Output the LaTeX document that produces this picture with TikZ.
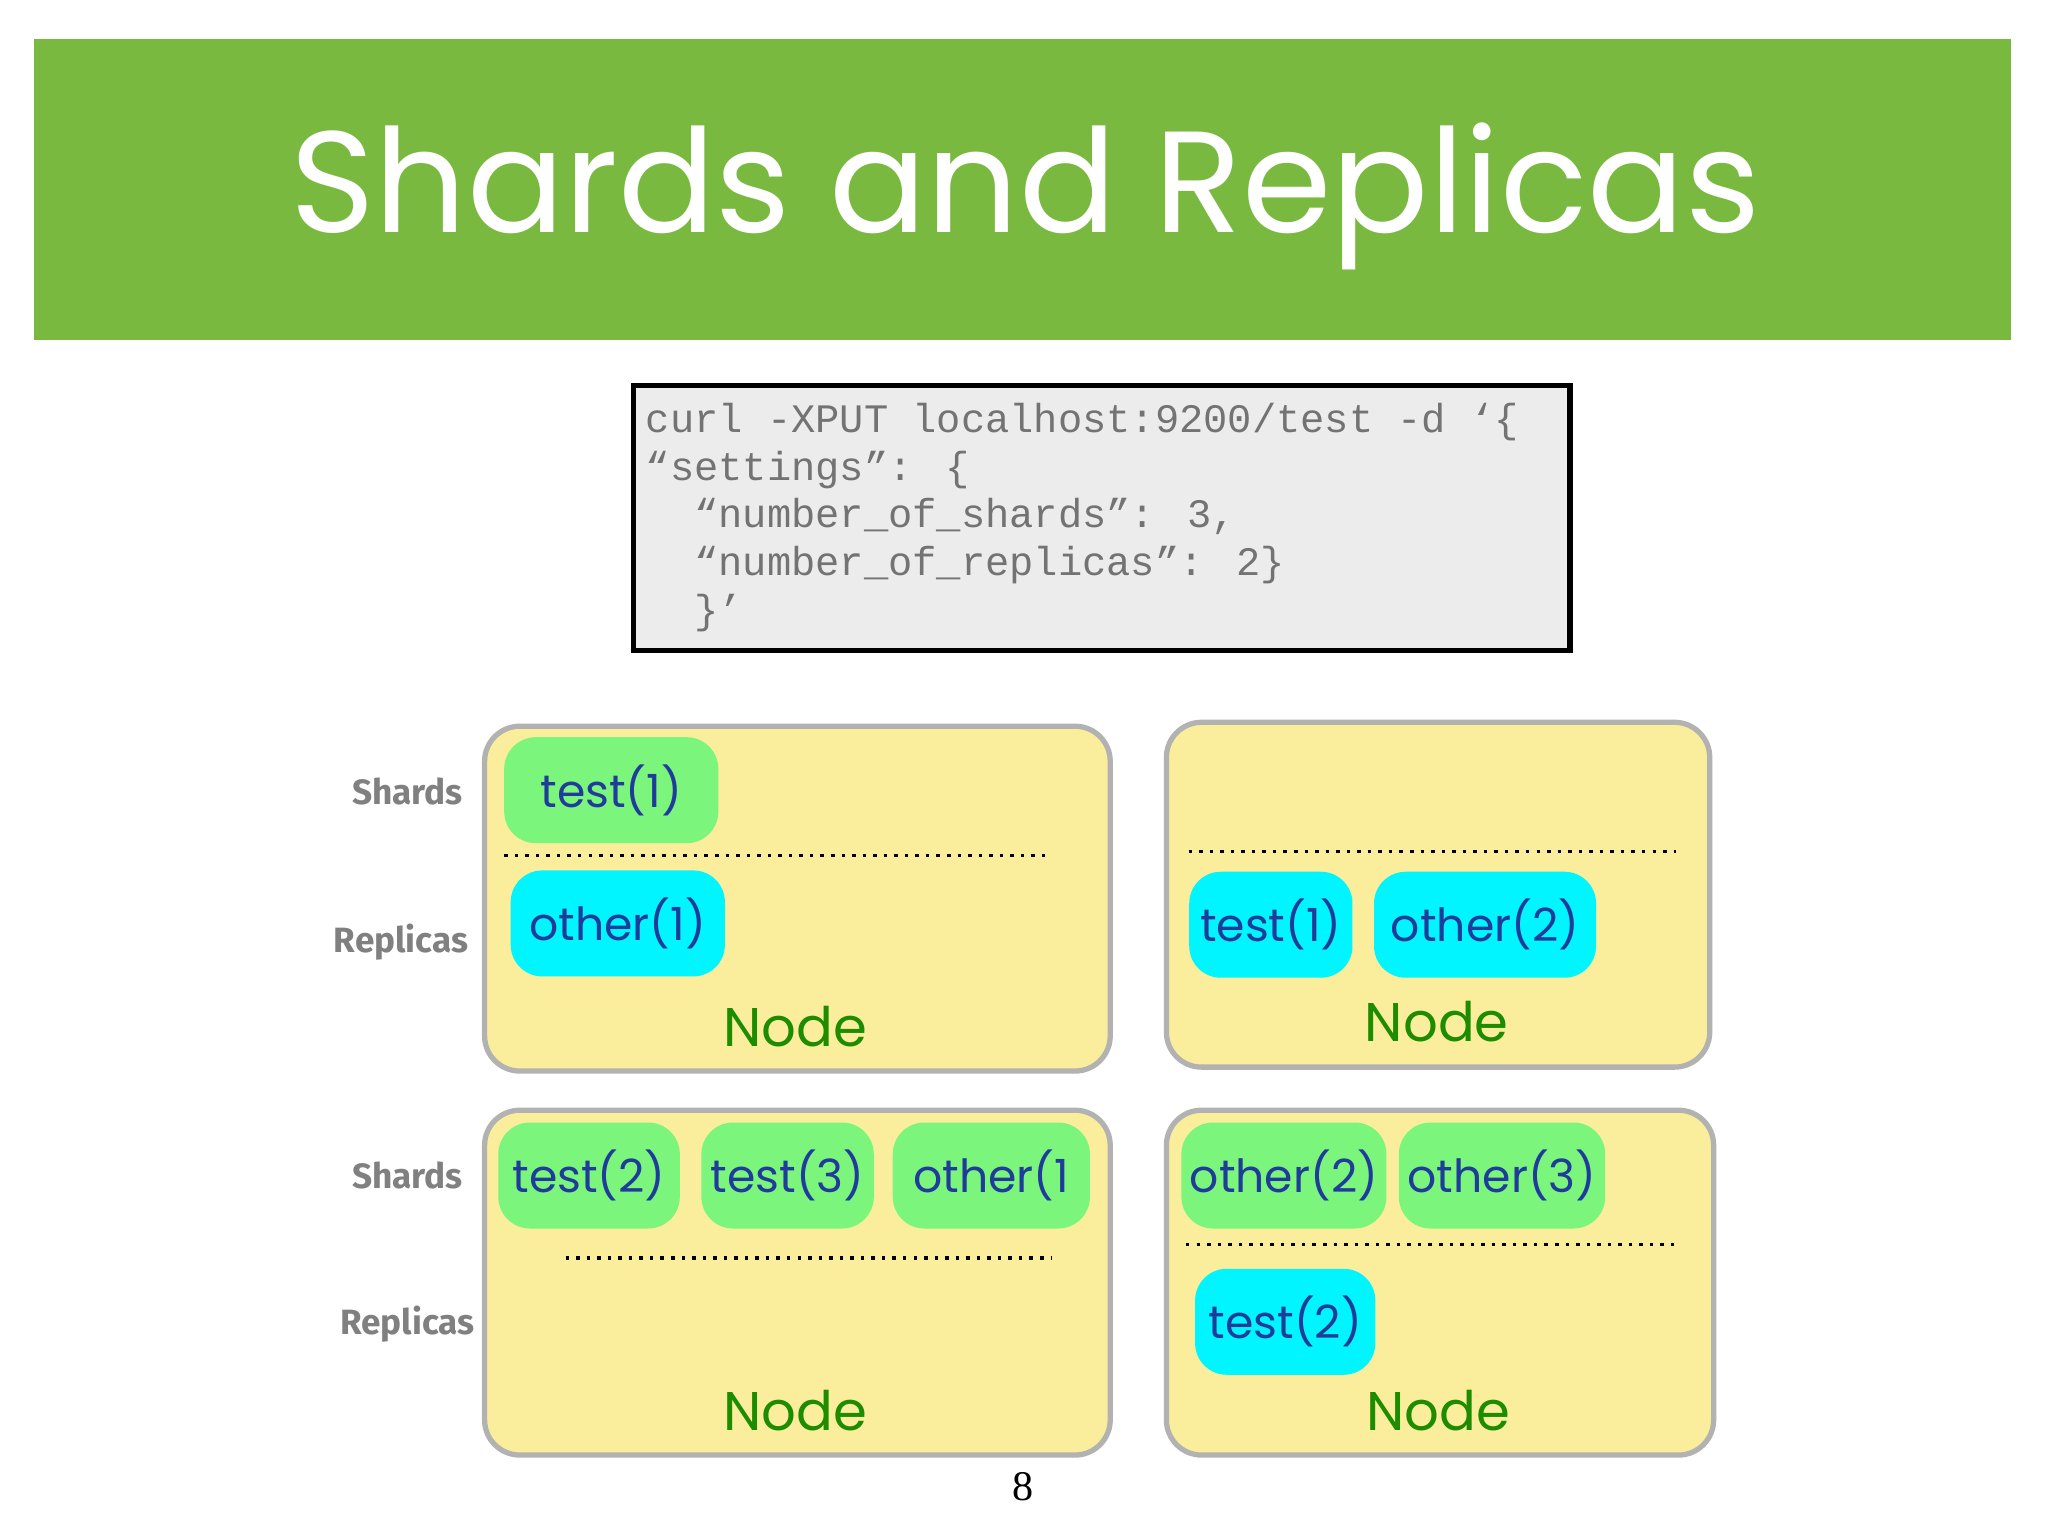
\documentclass[tikz,border=0pt]{standalone}
\usepackage{fontspec}
\setmainfont{Poppins}
\newfontfamily\codefont{Liberation Mono}
\newfontfamily\labfont{Fira Sans}
\newfontfamily\pagefont{Liberation Serif}
\usetikzlibrary{positioning}
\definecolor{banner}{HTML}{7AB940}
\definecolor{nodefill}{HTML}{FAEE9C}
\definecolor{shardgreen}{HTML}{7CF57C}
\definecolor{replcyan}{HTML}{00F5FF}
\definecolor{chiptext}{HTML}{1F3C9A}
\definecolor{nodegreen}{HTML}{1E8C00}
\tikzset{server/.style={draw=gray!60,line width=1.5pt,fill=nodefill,rounded corners=10pt,anchor=north west,inner sep=0pt},
  chip/.style={rounded corners=9pt,minimum height=1.06cm,inner sep=0pt,text=chiptext,font=\fontsize{13}{16}\selectfont},
  shard/.style={chip,fill=shardgreen},
  replica/.style={chip,fill=replcyan},
  caption/.style={text=nodegreen,font=\fontsize{15.5}{18}\selectfont},
  side/.style={text=gray,font=\labfont\bfseries\fontsize{10}{12}\selectfont},
  sep/.style={dotted,line width=1pt}}
\begin{document}
\begin{tikzpicture}[x=0.01306cm,y=-0.01306cm]
  \useasboundingbox (0,0) rectangle (1568,1176);
  \fill[white] (0,0) rectangle (1568,1176);
  % title
  \fill[banner] (26,30) rectangle (1540,260);
  \node[text=white,font=\fontsize{41}{48}\selectfont] (title) at (785,150) {Shards and Replicas};
  % request
  \node[draw,line width=1.5pt,fill=gray!15,anchor=north west,minimum width=717*0.01306cm,minimum height=203*0.01306cm] (req) at (483,293) {};
  \node[anchor=north west,align=left,text=gray!90!black,inner sep=0pt,font=\codefont\fontsize{11.5}{13.6}\selectfont] (code) at (494,308)
    {curl -XPUT localhost:9200/test -d ‘\{\\
     “settings”: \{\\
     \ \ “number\_of\_shards”: 3,\\
     \ \ “number\_of\_replicas”: 2\}\\
     \ \ \}’};
  % servers
  \node[server,minimum width=479*0.01306cm,minimum height=264*0.01306cm] (n1) at (369,554) {};
  \node[server,minimum width=416*0.01306cm,minimum height=264*0.01306cm] (n2) at (891,551) {};
  \node[server,minimum width=479*0.01306cm,minimum height=264*0.01306cm] (n3) at (369,848) {};
  \node[server,minimum width=419*0.01306cm,minimum height=264*0.01306cm] (n4) at (891,848) {};
  \draw[sep] (386,655) -- (805,655);
  \draw[sep] (910,652) -- (1283,652);
  \draw[sep] (433,963) -- (805,963);
  \draw[sep] (908,953) -- (1283,953);
  % chips
  \node[shard,minimum width=164*0.01306cm] (s11) at (468,605) {test(1)};
  \node[replica,minimum width=164*0.01306cm] (r11) at (473,707) {other(1)};
  \node[replica,minimum width=125*0.01306cm] (r21) at (973,708) {test(1)};
  \node[replica,minimum width=170*0.01306cm] (r22) at (1137,708) {other(2)};
  \node[shard,minimum width=139*0.01306cm] (s31) at (451,900) {test(2)};
  \node[shard,minimum width=132*0.01306cm] (s32) at (603,900) {test(3)};
  \node[shard,minimum width=151*0.01306cm] (s33) at (759,900) {other(1};
  \node[shard,minimum width=157*0.01306cm] (s41) at (983,900) {other(2)};
  \node[shard,minimum width=158*0.01306cm] (s42) at (1150,900) {other(3)};
  \node[replica,minimum width=138*0.01306cm] (r41) at (984,1012) {test(2)};
  % captions
  \node[caption] (c1) at (609,786) {Node};
  \node[caption] (c2) at (1100,782) {Node};
  \node[caption] (c3) at (609,1080) {Node};
  \node[caption] (c4) at (1101,1080) {Node};
  % side labels
  \node[side] (sh1) at (312,606) {Shards};
  \node[side] (re1) at (307,721) {Replicas};
  \node[side] (sh2) at (312,900) {Shards};
  \node[side] (re2) at (312,1014) {Replicas};
  \node[font=\pagefont\fontsize{12}{14}\selectfont] (page) at (783,1138) {8};
\end{tikzpicture}
\end{document}
